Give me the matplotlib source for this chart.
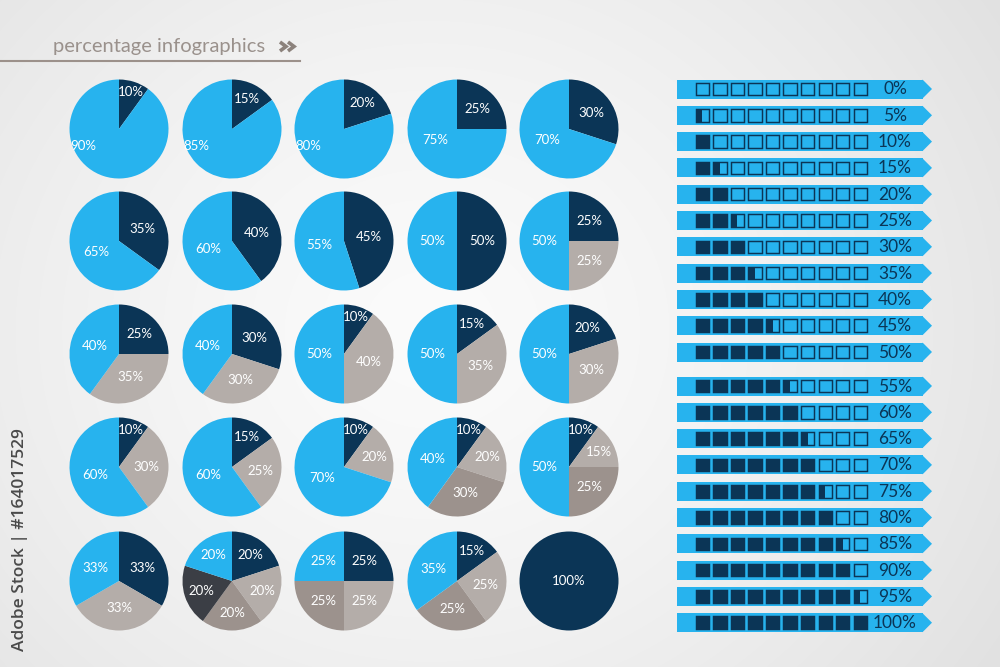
import numpy as np
import matplotlib
matplotlib.use("Agg")
import matplotlib.pyplot as plt
from matplotlib.patches import Polygon

W, H = 1000, 667
BLUE = "#27B3EE"
NAVY = "#0B3556"
LGREY = "#B4ADA9"
MGREY = "#9C928D"
DGREY = "#3B3E45"

# ---- data ----
pie_values = [
    [10, 90], [15, 85], [20, 80], [25, 75], [30, 70],
    [35, 65], [40, 60], [45, 55], [50, 50], [25, 25, 50],
    [25, 35, 40], [30, 30, 40], [10, 40, 50], [15, 35, 50], [20, 30, 50],
    [10, 30, 60], [15, 25, 60], [10, 20, 70], [10, 20, 30, 40], [10, 15, 25, 50],
    [33, 33, 33], [20, 20, 20, 20, 20], [25, 25, 25, 25], [15, 25, 25, 35], [100],
]
bar_percents = [0, 5, 10, 15, 20, 25, 30, 35, 40, 45, 50,
                55, 60, 65, 70, 75, 80, 85, 90, 95, 100]
title = "percentage infographics"

palette = {
    1: [NAVY],
    2: [NAVY, BLUE],
    3: [NAVY, LGREY, BLUE],
    4: [NAVY, LGREY, MGREY, BLUE],
    5: [NAVY, LGREY, MGREY, DGREY, BLUE],
}

plt.rcParams['font.family'] = ['Lato', 'DejaVu Sans']

fig = plt.figure(figsize=(W / 100, H / 100), dpi=100)
ax = fig.add_axes([0, 0, 1, 1])
ax.set_xlim(0, W)
ax.set_ylim(H, 0)
ax.axis("off")

# background radial gradient
yy, xx = np.mgrid[0:H, 0:W]
d = np.sqrt(((xx - 430) / 1.0) ** 2 + ((yy - 330) / 0.9) ** 2)
g = 251 - 26 * (d / d.max()) ** 1.4
bg = np.dstack([g, g, g]) / 255.0
ax.imshow(bg, extent=(0, W, H, 0), zorder=0, aspect="auto")

# title
ax.text(53, 52, title, fontsize=14.5, color="#9A918C", fontweight="normal",
        ha="left", va="baseline", zorder=2)
for x0 in (280, 288):
    ax.plot([x0, x0 + 6, x0], [42, 46.5, 51], color="#8C827C", lw=2.6,
            solid_joinstyle="miter", solid_capstyle="butt", zorder=2)
ax.plot([0, 300], [61, 61], color="#9C918B", lw=1.5, zorder=2)

# vertical stock text
ax.text(20, 540, "Adobe Stock | #164017529", rotation=90, fontsize=12.5,
        color="#4A4A4A", ha="center", va="center", family=["Open Sans", "DejaVu Sans"],
        fontweight="semibold", zorder=2)

# ---- bar rows ----
box_left0, box_pitch, box_w, box_h = 695.7, 17.55, 13.3, 12.6
for i, p in enumerate(bar_percents):
    y = 89 + i * 26.3 + (7.7 if i >= 11 else 0)
    ax.barh(y, 246, left=677, height=19, color=BLUE, zorder=2, lw=0)
    ax.add_patch(Polygon([[922.5, y - 9.5], [932, y], [922.5, y + 9.5]],
                         closed=True, color=BLUE, zorder=2, lw=0))
    lefts = [box_left0 + j * box_pitch for j in range(10)]
    fills = [box_w * min(1.0, max(0.0, p / 10 - j)) for j in range(10)]
    ax.barh([y] * 10, fills, left=lefts, height=box_h, color=NAVY, zorder=3, lw=0)
    ax.barh([y] * 10, [box_w] * 10, left=lefts, height=box_h, facecolor="none",
            edgecolor=NAVY, lw=1.05, zorder=4)
    ax.text(895, y + 0.5, f"{p}%", fontsize=12.5, color=NAVY, ha="center",
            va="center", zorder=5)

# ---- pies ----
xs = [119, 232, 344, 457, 569]
ys = [129, 241, 354, 467, 581]
r = 49.5
for k, vals in enumerate(pie_values):
    cx, cy = xs[k % 5], ys[k // 5]
    pax = fig.add_axes([(cx - r) / W, (H - cy - r) / H, 2 * r / W, 2 * r / H])
    wedges, _, autotexts = pax.pie(
        vals, colors=palette[len(vals)], startangle=90, counterclock=False,
        autopct=lambda q: f"{q:.0f}%", pctdistance=0.6,
        textprops=dict(color="white", fontsize=9.5),
        wedgeprops=dict(lw=0))
    total = sum(vals)
    n = len(vals)
    for idx, (w, t, v) in enumerate(zip(wedges, autotexts, vals)):
        frac = v / total
        mid = (w.theta1 + w.theta2) / 2  # math angle in degrees
        if frac >= 0.99:
            dist = 0.0
        elif idx == n - 1 and frac >= 0.55:
            cw = (90 - mid) % 360
            cw = max(cw, 244)
            mid = 90 - cw
            dist = 0.8 if frac >= 0.8 else 0.5
        else:
            dist = float(np.interp(frac, [0.1, 0.15, 0.2, 0.25, 0.35, 0.5],
                                   [0.78, 0.68, 0.64, 0.58, 0.53, 0.5]))
        ang = np.deg2rad(mid)
        t.set_position((dist * np.cos(ang), dist * np.sin(ang)))
    pax.set_xlim(-1, 1)
    pax.set_ylim(-1, 1)
    pax.set_aspect("equal")
    pax.axis("off")

fig.savefig("out.png", dpi=100)
